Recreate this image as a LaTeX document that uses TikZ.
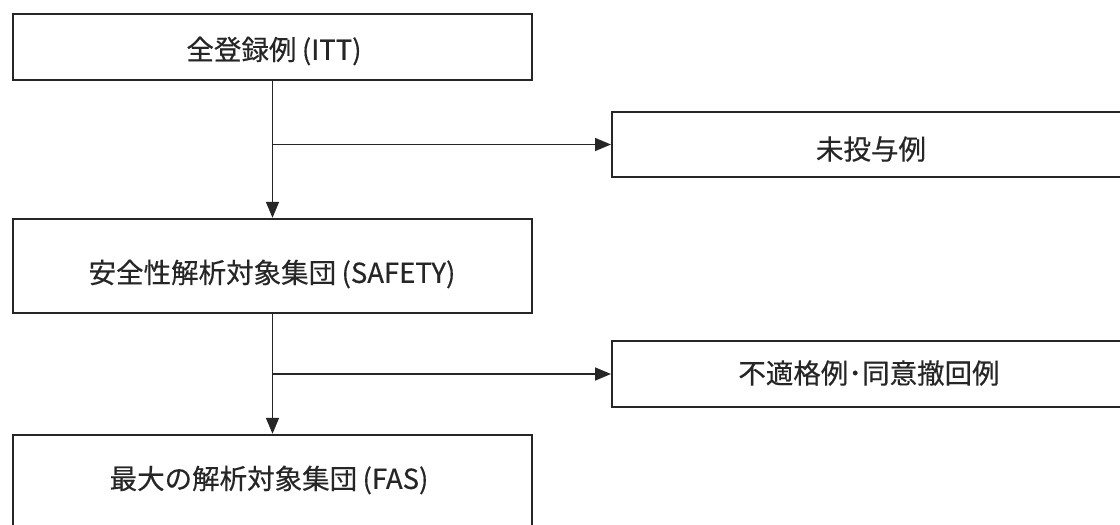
\documentclass[tikz,border=0pt]{standalone}
\usepackage{fontspec}
\setmainfont{Noto Sans CJK JP}
\newfontfamily\lblfont[FakeBold=0.45]{Noto Sans CJK JP}
\usetikzlibrary{arrows.meta}
\definecolor{ink}{HTML}{262626}
\newcommand{\lp}{\hspace{0.2em}(}
\tikzset{
  box/.style={draw=ink, line width=2.4pt, minimum width=519pt, inner sep=0pt, fill=none},
  rbox/.style={draw=ink, line width=2.4pt, minimum width=560pt, anchor=west, inner sep=0pt},
  lbl/.style={text=ink, inner sep=0pt, font=\lblfont\fontsize{27.5pt}{27.5pt}\selectfont},
  flow/.style={draw=ink, line width=1.6pt, -{Triangle[length=16pt,width=13pt]}},
  branch/.style={draw=ink, line width=1.6pt, -{Triangle[length=16pt,width=13pt]}},
}
\begin{document}
\begin{tikzpicture}[x=1pt,y=-1pt]
\useasboundingbox (0,0) rectangle (1120,525);
\clip (0,0) rectangle (1120,525);
\fill[white] (0,0) rectangle (1120,525);
% boxes
\node[box, minimum height=66pt] (b1) at (272.5,47) {};
\node[rbox, minimum height=65pt] (b2) at (611,144.5) {};
\node[box, minimum height=94pt] (b3) at (272.5,266) {};
\node[rbox, minimum height=66pt] (b4) at (611,374) {};
\node[box, minimum height=94pt] (b5) at (272.5,482) {};
% labels
\node[lbl] (t1) at (274,51) {全登録例\lp ITT)};
\node[lbl] (t2) at (871,149) {未投与例};
\node[lbl] (t3) at (272,274) {安全性解析対象集団\lp SAFETY)};
\node[lbl] (t4) at (869,373) {不適格例･同意撤回例};
\node[lbl] (t5) at (269,480) {最大の解析対象集団\lp FAS)};
% connectors
\coordinate (j1) at (b1.south |- b2.west);
\coordinate (j2) at (b3.south |- b4.west);
\draw[flow] (b1.south) -- (b3.north);
\draw[branch] (j1) -- (b2.west);
\draw[flow] (b3.south) -- (b5.north);
\draw[branch] (j2) -- (b4.west);
\end{tikzpicture}
\end{document}
